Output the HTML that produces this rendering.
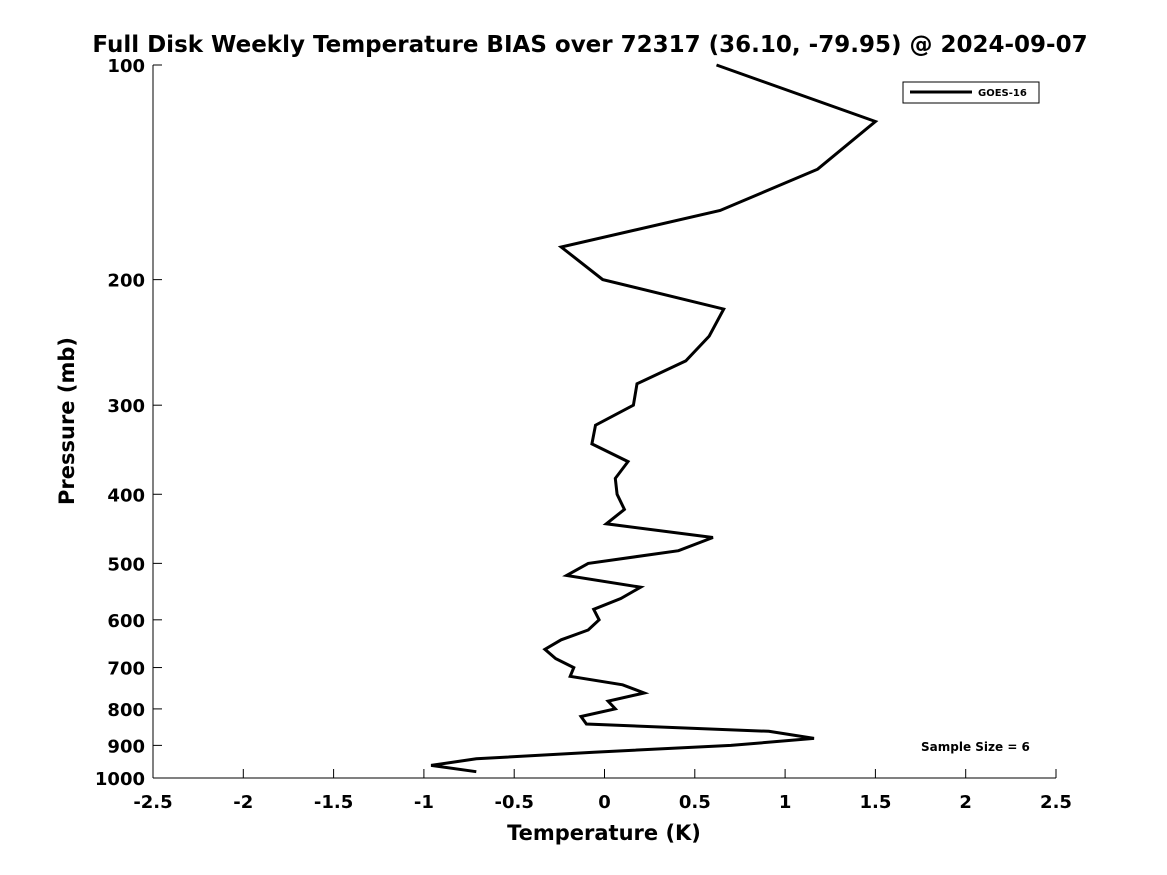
<!DOCTYPE html>
<html><head><meta charset="utf-8"><style>
body{margin:0;background:#fff;}
svg{display:block;font-family:"DejaVu Sans","Liberation Sans",sans-serif;font-weight:bold;}
</style></head><body>
<svg id="chart" width="1167" height="875" viewBox="0 0 1167 875">
<rect width="1167" height="875" fill="#fff"/>
<text x="590" y="52" text-anchor="middle" font-size="23">Full Disk Weekly Temperature BIAS over 72317 (36.10, -79.95) @ 2024-09-07</text>
<g id="axes"></g>
<polyline id="series" fill="none" stroke="#000" stroke-width="3" stroke-linejoin="miter"/>
<g>
<rect x="903" y="82" width="136" height="21" fill="#fff" stroke="#000" stroke-width="1"/>
<line x1="910" y1="92" x2="972" y2="92" stroke="#000" stroke-width="3"/>
<text x="978" y="96" font-size="10">GOES-16</text>
</g>
<text x="921" y="751" font-size="12">Sample Size = 6</text>
<text x="604" y="840" text-anchor="middle" font-size="21">Temperature (K)</text>
<text transform="translate(74,421) rotate(-90)" text-anchor="middle" font-size="21">Pressure (mb)</text>
</svg>
<script>
const temps=[0.62,1.50,1.18,0.64,-0.24,-0.01,0.66,0.58,0.45,0.18,0.16,-0.05,-0.07,0.13,0.06,0.07,0.11,0.01,0.60,0.41,-0.09,-0.21,0.20,0.09,-0.06,-0.03,-0.09,-0.24,-0.33,-0.27,-0.17,-0.19,0.10,0.22,0.02,0.06,-0.13,-0.10,0.91,1.16,0.70,-0.06,-0.71,-0.96,-0.71];
const pressures=[100,120,140,160,180,200,220,240,260,280,300,320,340,360,380,400,420,440,460,480,500,520,540,560,580,600,620,640,660,680,700,720,740,760,780,800,820,840,860,880,900,920,940,960,980];
const xTicks=[-2.5,-2,-1.5,-1,-0.5,0,0.5,1,1.5,2,2.5];
const yTicks=[100,200,300,400,500,600,700,800,900,1000];
const X0=153,X1=1056,Y0=65,Y1=778;
function xs(t){return X0+(t+2.5)/5*(X1-X0);}
function ys(p){return Y0+(Math.log10(p)-2)*(Y1-Y0);}
const NS="http://www.w3.org/2000/svg";
const ax=document.getElementById('axes');
function mk(tag,attrs){const e=document.createElementNS(NS,tag);for(const k in attrs)e.setAttribute(k,attrs[k]);ax.appendChild(e);return e;}
let l=mk('line',{x1:X0,y1:Y0,x2:X0,y2:Y1,stroke:'#000','stroke-width':1});


l=mk('line',{x1:X0,y1:Y1,x2:X1,y2:Y1,stroke:'#000','stroke-width':1});


xTicks.forEach(t=>{
 const x=xs(t);
 mk('line',{x1:x,y1:Y1,x2:x,y2:Y1-9,stroke:'#000'});
 const tx=mk('text',{x:x,y:Y1+30,'text-anchor':'middle','font-size':18});
 
 
 tx.textContent=String(t);
});
yTicks.forEach(p=>{
 const y=ys(p);
 mk('line',{x1:X0,y1:y,x2:X0+9,y2:y,stroke:'#000'});
 const tx=mk('text',{x:X0-8,y:y+7,'text-anchor':'end','font-size':18});
 
 
 tx.textContent=String(p);
});
document.getElementById('series').setAttribute('points',temps.map((t,i)=>xs(t).toFixed(1)+','+ys(pressures[i]).toFixed(1)).join(' '));
</script>
</body></html>
